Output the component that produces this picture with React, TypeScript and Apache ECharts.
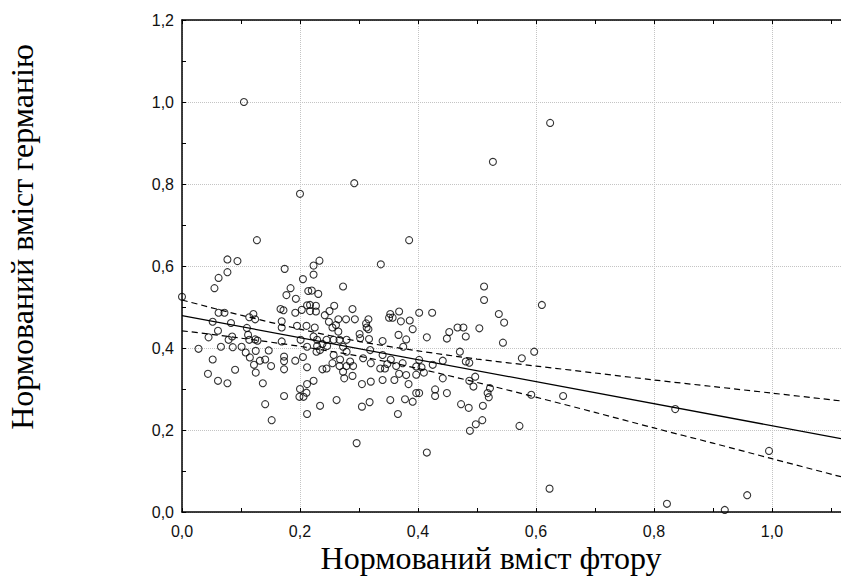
import React, { useEffect, useRef } from "react";
import * as echarts from "echarts";

// Normalized fluorine content (x) and germanium content (y)
const fluorineX: number[] = [
  0.105, 0.127, 0.200, 0.292, 0.385, 0.527, 0.624,
  0.646, 0.836, 0.995, 0.822, 0.920, 0.958, 0.623, 0.296, 0.415,
  0.077, 0.094, 0.062, 0.077, 0.055, 0.000,
  0.174, 0.184, 0.177, 0.193, 0.205, 0.214,
  0.167, 0.172, 0.192, 0.203, 0.212,
  0.062, 0.072, 0.121, 0.114, 0.124, 0.052, 0.083,
  0.169, 0.169, 0.195, 0.110, 0.061, 0.112, 0.045, 0.085,
  0.114, 0.124, 0.128, 0.079, 0.169, 0.201,
  0.028, 0.066, 0.086, 0.101, 0.108, 0.125, 0.147, 0.115,
  0.132, 0.141, 0.052, 0.173, 0.173, 0.173, 0.205, 0.192,
  0.122, 0.151, 0.212, 0.090, 0.044, 0.125, 0.061, 0.077,
  0.137, 0.200, 0.199, 0.206, 0.211, 0.212, 0.173,
  0.212, 0.141, 0.152,
  0.233, 0.223, 0.223, 0.337, 0.273, 0.220, 0.231,
  0.217, 0.227, 0.217, 0.227, 0.258, 0.250, 0.242, 0.289,
  0.353, 0.357, 0.351, 0.368, 0.371, 0.402, 0.424,
  0.386, 0.391, 0.316, 0.312, 0.313, 0.316,
  0.265, 0.278, 0.293, 0.249, 0.261, 0.255, 0.265,
  0.225, 0.211, 0.301, 0.302, 0.317, 0.367, 0.380, 0.415,
  0.340, 0.375,
  0.212, 0.223, 0.229, 0.229, 0.238, 0.246, 0.245, 0.257, 0.267, 0.273, 0.279,
  0.228, 0.234, 0.279, 0.257, 0.268, 0.255, 0.267, 0.285, 0.290, 0.279,
  0.307, 0.319, 0.320, 0.340, 0.354, 0.348, 0.336, 0.344, 0.363, 0.374,
  0.402, 0.406, 0.397, 0.410, 0.397,
  0.245, 0.238, 0.273, 0.275, 0.289,
  0.305, 0.320, 0.340, 0.360, 0.368, 0.380, 0.384,
  0.429, 0.429, 0.397, 0.402, 0.391, 0.378, 0.353, 0.318, 0.262, 0.305, 0.234,
  0.223, 0.366,
  0.512, 0.512, 0.610, 0.537, 0.546,
  0.467, 0.477, 0.453, 0.449, 0.481, 0.504,
  0.544, 0.597, 0.576, 0.471, 0.442, 0.425, 0.481, 0.487,
  0.442, 0.497, 0.487, 0.494, 0.522, 0.518, 0.520,
  0.449, 0.592, 0.473, 0.486, 0.510, 0.509, 0.498, 0.488, 0.572,
];

const germaniumY: number[] = [
  1.000, 0.663, 0.776, 0.802, 0.663, 0.854, 0.949,
  0.283, 0.251, 0.149, 0.020, 0.005, 0.041, 0.057, 0.168, 0.145,
  0.616, 0.612, 0.571, 0.585, 0.546, 0.525,
  0.593, 0.546, 0.529, 0.520, 0.568, 0.539,
  0.495, 0.492, 0.486, 0.493, 0.504,
  0.486, 0.486, 0.483, 0.475, 0.470, 0.464, 0.461,
  0.465, 0.450, 0.454, 0.449, 0.442, 0.432, 0.426, 0.428,
  0.420, 0.421, 0.418, 0.420, 0.416, 0.420,
  0.398, 0.403, 0.402, 0.403, 0.389, 0.393, 0.394, 0.377,
  0.369, 0.372, 0.372, 0.379, 0.368, 0.348, 0.378, 0.369,
  0.359, 0.356, 0.353, 0.347, 0.337, 0.340, 0.320, 0.314,
  0.314, 0.300, 0.281, 0.281, 0.291, 0.312, 0.283,
  0.239, 0.263, 0.224,
  0.613, 0.601, 0.579, 0.604, 0.550, 0.540, 0.532,
  0.505, 0.503, 0.490, 0.489, 0.503, 0.490, 0.480, 0.495,
  0.483, 0.474, 0.474, 0.489, 0.465, 0.486, 0.486,
  0.467, 0.446, 0.470, 0.460, 0.450, 0.446,
  0.470, 0.470, 0.470, 0.464, 0.456, 0.450, 0.440,
  0.450, 0.454, 0.434, 0.424, 0.422, 0.432, 0.421, 0.426,
  0.417, 0.403,
  0.403, 0.428, 0.420, 0.405, 0.410, 0.405, 0.420, 0.420, 0.420, 0.403, 0.420,
  0.391, 0.395, 0.391, 0.383, 0.372, 0.363, 0.356, 0.367, 0.356, 0.356,
  0.375, 0.395, 0.363, 0.383, 0.372, 0.361, 0.350, 0.350, 0.356, 0.363,
  0.371, 0.353, 0.355, 0.340, 0.335,
  0.350, 0.348, 0.342, 0.326, 0.332,
  0.312, 0.318, 0.322, 0.322, 0.337, 0.334, 0.312,
  0.299, 0.283, 0.290, 0.290, 0.269, 0.275, 0.273, 0.268, 0.273, 0.257, 0.259,
  0.320, 0.239,
  0.550, 0.517, 0.505, 0.483, 0.462,
  0.450, 0.450, 0.439, 0.423, 0.428, 0.448,
  0.413, 0.391, 0.375, 0.391, 0.369, 0.359, 0.367, 0.364,
  0.326, 0.330, 0.320, 0.306, 0.302, 0.290, 0.280,
  0.290, 0.286, 0.263, 0.254, 0.259, 0.224, 0.214, 0.198, 0.210,
];

// Regression line and 95% confidence band
const fitX: number[] = [0, 1.117];
const fitY: number[] = [0.479, 0.179];
const bandX: number[] = [0, 0.1, 0.2, 0.3, 0.4, 0.5, 0.6, 0.7, 0.8, 0.9, 1.0, 1.117];
const bandUpper: number[] = [0.517, 0.480, 0.446, 0.416, 0.393, 0.373, 0.356, 0.339, 0.322, 0.306, 0.290, 0.271];
const bandLower: number[] = [0.442, 0.424, 0.404, 0.380, 0.350, 0.316, 0.280, 0.243, 0.205, 0.168, 0.130, 0.086];

const xTicks = { min: 0, max: 1.117, interval: 0.2 };
const yTicks = { min: 0, max: 1.2, interval: 0.2 };

const xTitle = "Нормований вміст фтору";
const yTitle = "Нормований вміст германію";

const fmt = (v: number) => v.toFixed(1).replace(".", ",");

export default function App() {
  const ref = useRef<HTMLDivElement>(null);
  useEffect(() => {
    if (!ref.current) return;
    const chart = echarts.init(ref.current, undefined, { renderer: "svg" });
    const points = fluorineX.map((x, i) => [x, germaniumY[i]]);
    const fit = fitX.map((x, i) => [x, fitY[i]]);
    const upper = bandX.map((x, i) => [x, bandUpper[i]]);
    const lower = bandX.map((x, i) => [x, bandLower[i]]);
    const labelFont = { fontFamily: "Liberation Sans, Arial, sans-serif", fontSize: 16, color: "#111" };
    const tickStyle = { show: true, inside: true, length: 4, lineStyle: { color: "#000", width: 1 } };
    const minor = { show: true, splitNumber: 2, length: 4, lineStyle: { color: "#000", width: 1 } };
    const titleFont = "Liberation Serif, Times New Roman, serif";
    chart.setOption({
      animation: false,
      backgroundColor: "#fff",
      grid: { left: 182, right: 0, top: 20, bottom: 64 },
      xAxis: [
        {
          type: "value",
          position: "bottom",
          min: xTicks.min,
          max: xTicks.max,
          interval: xTicks.interval,
          axisLine: { show: true, lineStyle: { color: "#000", width: 1.5 } },
          axisTick: tickStyle,
          minorTick: minor,
          axisLabel: { ...labelFont, margin: 11, formatter: fmt, showMaxLabel: false },
          splitLine: { show: true, lineStyle: { color: "#c4c4c4", type: "dotted", width: 1 } },
        },
        {
          type: "value",
          position: "top",
          min: xTicks.min,
          max: xTicks.max,
          interval: xTicks.interval,
          axisLine: { show: true, onZero: false, lineStyle: { color: "#000", width: 1.5 } },
          axisTick: tickStyle,
          minorTick: minor,
          axisLabel: { show: false },
          splitLine: { show: false },
        },
      ],
      yAxis: {
        type: "value",
        min: yTicks.min,
        max: yTicks.max,
        interval: yTicks.interval,
        axisLine: { show: true, lineStyle: { color: "#000", width: 1.5 } },
        axisTick: tickStyle,
        minorTick: minor,
        axisLabel: { ...labelFont, margin: 8, formatter: fmt },
        splitLine: { show: true, lineStyle: { color: "#c4c4c4", type: "dotted", width: 1 } },
      },
      graphic: [
        {
          type: "text",
          x: 491,
          y: 558,
          style: {
            text: xTitle,
            fontFamily: titleFont,
            fontSize: 32,
            fill: "#000",
            align: "center",
            verticalAlign: "middle",
          },
        },
        {
          type: "text",
          x: 22,
          y: 237,
          rotation: Math.PI / 2,
          style: {
            text: yTitle,
            fontFamily: titleFont,
            fontSize: 32,
            fill: "#000",
            align: "center",
            verticalAlign: "middle",
          },
        },
      ],
      series: [
        {
          type: "scatter",
          data: points,
          symbol: "circle",
          symbolSize: 7,
          itemStyle: { color: "rgba(0,0,0,0)", borderColor: "#000", borderWidth: 1.1 },
          z: 3,
        },
        {
          type: "line",
          data: fit,
          symbol: "none",
          lineStyle: { color: "#000", width: 1.3 },
          z: 4,
        },
        {
          type: "line",
          data: upper,
          symbol: "none",
          smooth: 0.3,
          lineStyle: { color: "#000", width: 1.2, type: [6, 4] },
          z: 4,
        },
        {
          type: "line",
          data: lower,
          symbol: "none",
          smooth: 0.3,
          lineStyle: { color: "#000", width: 1.2, type: [6, 4] },
          z: 4,
        },
      ],
    });
    return () => chart.dispose();
  }, []);
  return (
    <div
      ref={ref}
      style={{ position: "absolute", left: 0, top: 0, width: 841, height: 576 }}
    />
  );
}
